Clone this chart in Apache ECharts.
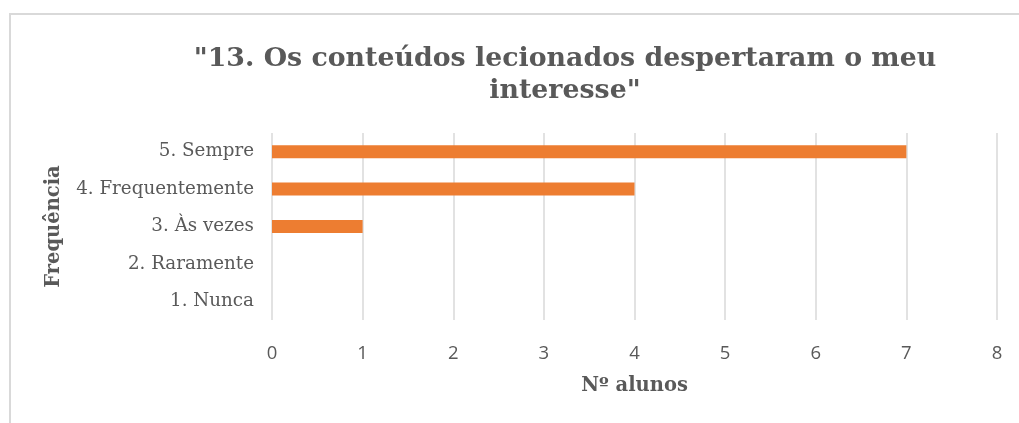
<!DOCTYPE html>
<html><head><meta charset="utf-8">
<script src="https://cdn.jsdelivr.net/npm/echarts@6/dist/echarts.min.js"></script>
<style>
html,body{margin:0;padding:0;background:#fff;overflow:hidden;}
#frame{position:absolute;left:9px;top:13px;width:1030px;height:430px;border:2px solid #d9d9d9;box-sizing:border-box;}
#c{position:absolute;left:0;top:0;width:1019px;height:423px;}
</style></head><body>
<div id="frame"></div>
<div id="c"></div>
<script>
const titleText = '"13. Os conteúdos lecionados despertaram o meu\ninteresse"';
const categories = ['1. Nunca', '2. Raramente', '3. Às vezes', '4. Frequentemente', '5. Sempre'];
const values = [0, 0, 1, 4, 7];
const xTicks = [0, 1, 2, 3, 4, 5, 6, 7, 8];
const xAxisName = 'Nº alunos';
const yAxisName = 'Frequência';

const chart = echarts.init(document.getElementById('c'), null, {renderer: 'canvas'});
chart.setOption({
  animation: false,
  backgroundColor: 'transparent',
  title: {
    text: titleText, left: 560, top: 38, textAlign: 'center',
    textStyle: {fontFamily: 'DejaVu Serif', fontWeight: 'bold', fontSize: 26.8, color: '#595959', lineHeight: 32}
  },
  grid: {left: 272, right: 22, top: 133, bottom: 103, containLabel: false},
  xAxis: {
    type: 'value', min: xTicks[0], max: xTicks[xTicks.length - 1], interval: 1,
    name: xAxisName, nameLocation: 'middle', nameGap: 56,
    nameTextStyle: {fontFamily: 'DejaVu Serif', fontWeight: 'bold', fontSize: 19.5, color: '#595959'},
    axisLine: {show: false}, axisTick: {show: false},
    axisLabel: {fontFamily: 'Open Sans', fontSize: 18.5, color: '#595959', margin: 24},
    splitLine: {show: true, lineStyle: {color: '#d9d9d9', width: 1.5}}
  },
  yAxis: {
    type: 'category', data: categories,
    name: yAxisName, nameLocation: 'middle', nameGap: 208, nameRotate: 90,
    nameTextStyle: {fontFamily: 'DejaVu Serif', fontWeight: 'bold', fontSize: 19.5, color: '#595959'},
    axisLine: {show: false}, axisTick: {show: false},
    axisLabel: {fontFamily: 'DejaVu Serif', fontSize: 18.3, color: '#595959', margin: 18}
  },
  series: [{
    type: 'bar', data: values, barWidth: 13,
    itemStyle: {color: '#ed7d31'}
  }]
});
</script>
</body></html>
